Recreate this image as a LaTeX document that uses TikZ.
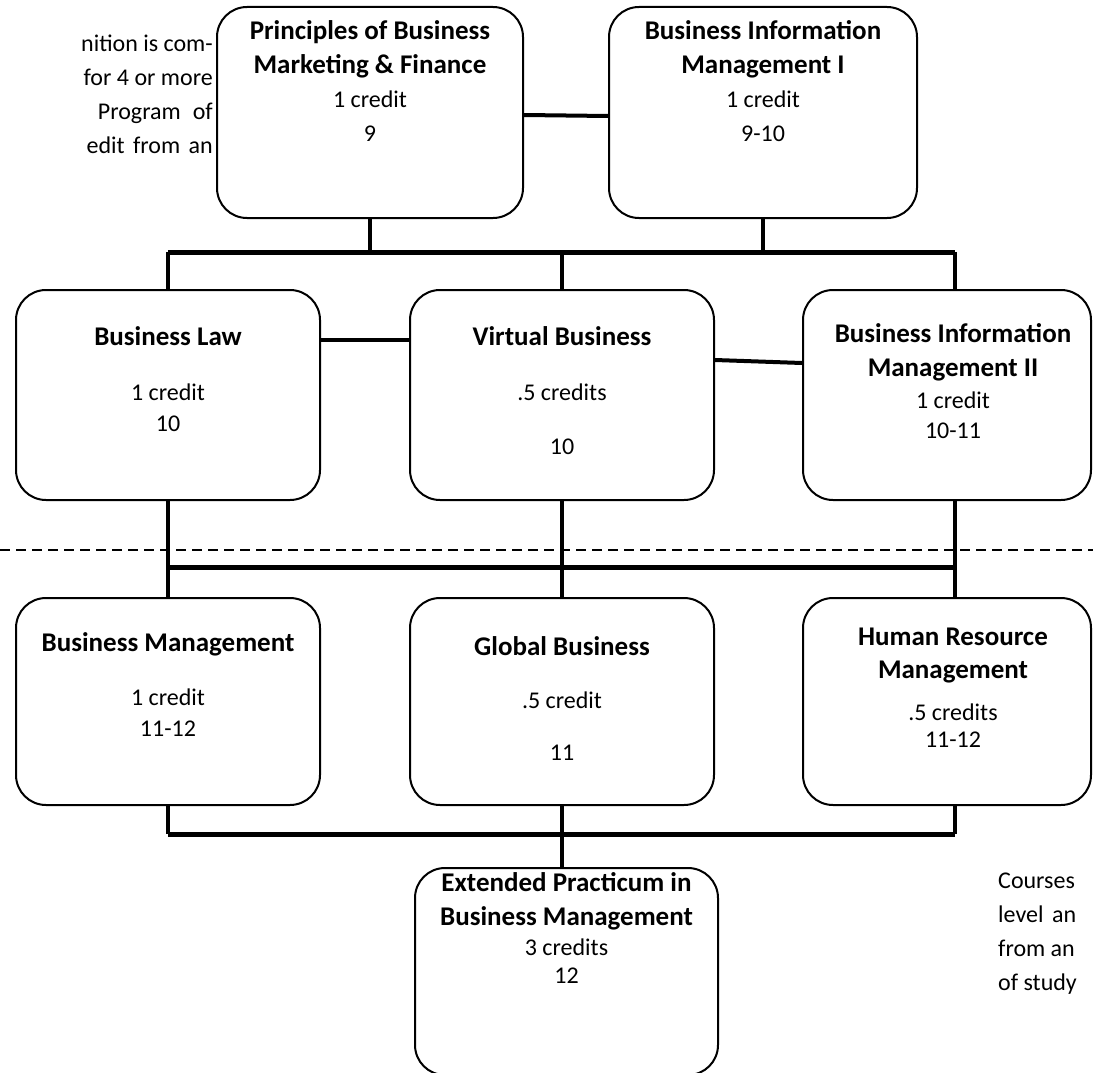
\documentclass[tikz,border=0pt]{standalone}
\usepackage{fontspec}
\setmainfont{Carlito}
\usepackage{tikz}
\usetikzlibrary{positioning}

\newcommand\coursefont{\fontsize{24}{34}\selectfont}
\newcommand\coursetitle[1]{{\fontsize{27}{34}\selectfont\bfseries #1}}

\tikzset{
  course/.style={draw, line width=2pt, rounded corners=30pt, inner sep=0pt},
  ctext/.style={align=center, font=\coursefont, inner sep=0pt, anchor=base},
  sidetext/.style={font=\coursefont, inner sep=0pt},
  link/.style={line width=4pt},
  bus/.style={line width=5pt},
  divider/.style={line width=2.5pt, dash pattern=on 10pt off 6pt},
}

\begin{document}
\begin{tikzpicture}[x=1pt,y=-1pt]
\clip (0,0) rectangle (1093,1073);

% course boxes
\node[course, minimum width=306pt, minimum height=211pt] (pbm) at (370,112.5) {};
\node[course, minimum width=308pt, minimum height=211pt] (bim1) at (763,112.5) {};
\node[course, minimum width=304pt, minimum height=210pt] (law) at (168,395) {};
\node[course, minimum width=304pt, minimum height=210pt] (virt) at (562,395) {};
\node[course, minimum width=288pt, minimum height=210pt] (bim2) at (947,395) {};
\node[course, minimum width=304pt, minimum height=207pt] (bm) at (168,701.5) {};
\node[course, minimum width=304pt, minimum height=207pt] (gb) at (562,701.5) {};
\node[course, minimum width=288pt, minimum height=207pt] (hrm) at (947,701.5) {};
\node[course, minimum width=303pt, minimum height=207pt] (epbm) at (566.5,971.5) {};

% course texts (anchored at the baseline of the last line)
\node[ctext] (pbmtxt) at (370,141) {\coursetitle{Principles of Business}\\\coursetitle{Marketing \& Finance}\\1 credit\\9};
\node[ctext] (bim1txt) at (763,141) {\coursetitle{Business Information}\\\coursetitle{Management I}\\1 credit\\9-10};
\node[ctext] (lawtxt) at (168,431) {\coursetitle{Business Law}\\[21pt]1 credit\\[-3pt]10};
\node[ctext] (virttxt) at (562,454) {\coursetitle{Virtual Business}\\[21pt].5 credits\\[20pt]10};
\node[ctext] (bim2txt) at (953,438) {\coursetitle{Business Information}\\\coursetitle{Management II}\\[-2pt]1 credit\\[-4pt]10-11};
\node[ctext] (bmtxt) at (168,736) {\coursetitle{Business Management}\\[20pt]1 credit\\[-3pt]11-12};
\node[ctext] (gbtxt) at (562,760) {\coursetitle{Global Business}\\[19pt].5 credit\\[18pt]11};
\node[ctext] (hrmtxt) at (953,747) {\coursetitle{Human Resource}\\[-1pt]\coursetitle{Management}\\[8pt].5 credits\\[-7pt]11-12};
\node[ctext] (epbmtxt) at (566.5,983) {\coursetitle{Extended Practicum in}\\\coursetitle{Business Management}\\[-4pt]3 credits\\[-6pt]12};

% side texts
\node[sidetext, align=right, anchor=base east] (intro) at (213,153)
  {nition is com-\\for 4 or more\\Program\hspace{12pt}of\\edit\hspace{3pt} from\hspace{3pt} an};
\node[sidetext, align=left, anchor=base west] (outro) at (998,990)
  {Courses\\level\hspace{3pt} an\\from an\\of study};

% levels of the connectors
\coordinate (bus1) at (0,252);
\coordinate (bus2) at (0,567);
\coordinate (bus3) at (0,834);
\coordinate (row2a) at (0,340);
\coordinate (row2b) at (0,360);
\coordinate (row2c) at (0,363);
\coordinate (cut) at (0,550);
\coordinate (cutend) at (1093,550);
\coordinate (right) at ([xshift=8pt]bim2.north);
\coordinate (rightlow) at ([xshift=8pt]hrm.south);

% grade 9
\draw[link] (pbm.east |- 0,115) -- (bim1.west |- 0,116);
\draw[link] (pbm.south) -- (pbm.south |- bus1);
\draw[link] (bim1.south) -- (bim1.south |- bus1);
\draw[bus] (law.north |- bus1) -- (right |- bus1);
\draw[link] (law.north |- bus1) -- (law.north);
\draw[link] (virt.north |- bus1) -- (virt.north);
\draw[link] (right |- bus1) -- (right);

% grade 10
\draw[link] (law.east |- row2a) -- (virt.west |- row2a);
\draw[link] (virt.east |- row2b) -- (bim2.west |- row2c);
\draw[divider] (cut) -- (cutend);
\draw[link] (law.south) -- (bm.north);
\draw[link] (virt.south) -- (gb.north);
\draw[link] (right |- bim2.south) -- (right |- hrm.north);
\draw[bus] (law.south |- bus2) -- (right |- bus2);

% grades 11-12
\draw[link] (bm.south) -- (bm.south |- bus3);
\draw[link] (rightlow) -- (rightlow |- bus3);
\draw[bus] (bm.south |- bus3) -- (rightlow |- bus3);
\draw[link] (gb.south) -- (epbm.north -| gb.south);
\end{tikzpicture}
\end{document}
